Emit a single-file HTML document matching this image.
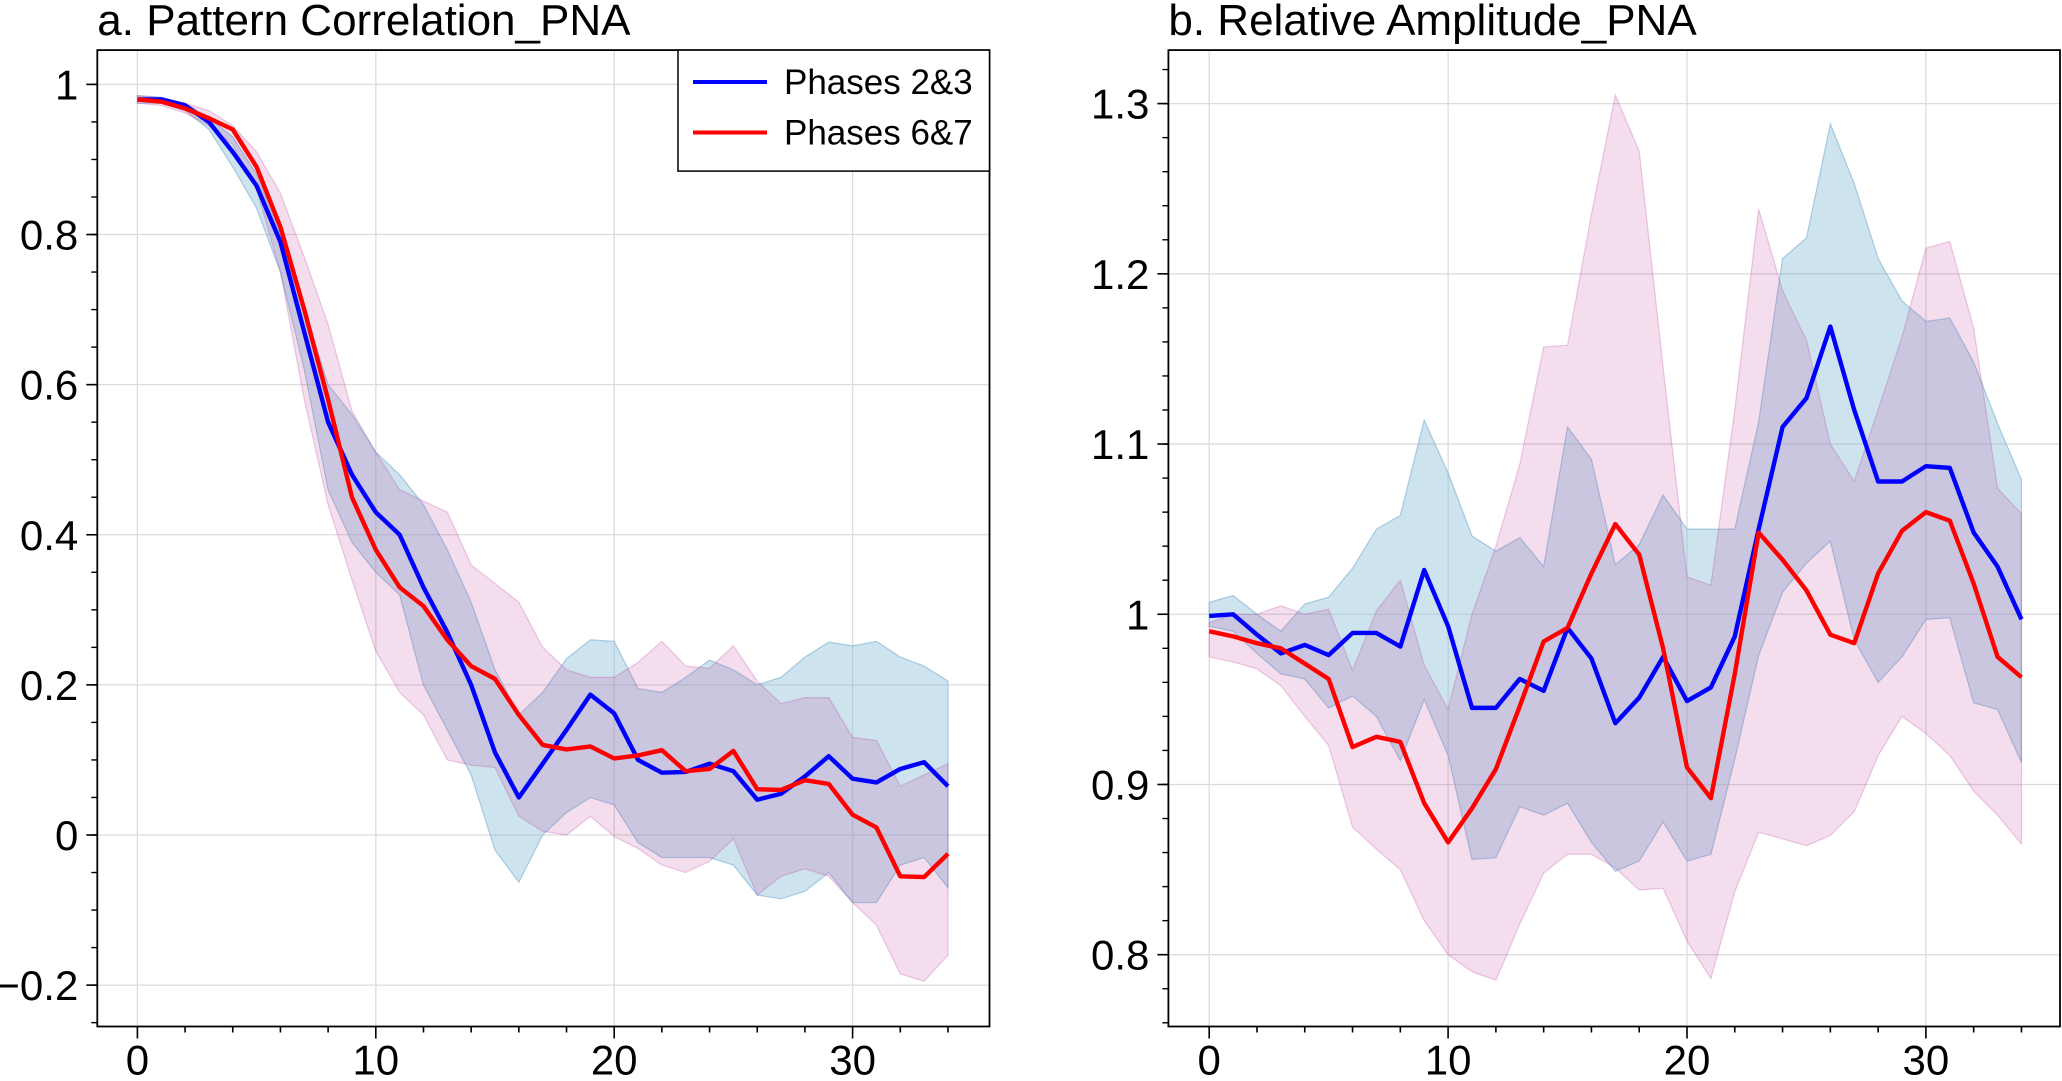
<!DOCTYPE html>
<html><head><meta charset="utf-8"><style>
html,body{margin:0;padding:0;background:#fff;}
svg text{font-family:"Liberation Sans",sans-serif;fill:#000;}
</style></head><body>
<svg id="fig" width="2062" height="1076" xmlns="http://www.w3.org/2000/svg"></svg>
<script>
const days = Array.from({length:35},(_, i)=>i);
const xTicks = [0,10,20,30];
const aTicks = [-0.2,0,0.2,0.4,0.6,0.8,1];
const aTickLabels = ["\u22120.2","0","0.2","0.4","0.6","0.8","1"];
const aBlue = [0.98,0.98,0.972,0.95,0.91,0.865,0.79,0.67,0.55,0.48,0.43,0.40,0.33,0.27,0.20,0.11,0.05,0.095,0.14,0.187,0.162,0.10,0.083,0.084,0.095,0.085,0.047,0.055,0.078,0.105,0.075,0.07,0.088,0.097,0.065];
const aRed = [0.98,0.977,0.968,0.955,0.94,0.89,0.81,0.70,0.58,0.45,0.38,0.33,0.305,0.26,0.225,0.208,0.16,0.12,0.114,0.118,0.102,0.106,0.113,0.085,0.088,0.112,0.061,0.06,0.073,0.068,0.027,0.01,-0.055,-0.056,-0.025];
const aBlueUp = [0.985,0.983,0.975,0.955,0.93,0.88,0.80,0.70,0.60,0.56,0.51,0.48,0.44,0.38,0.31,0.22,0.16,0.19,0.235,0.26,0.258,0.195,0.19,0.21,0.233,0.22,0.20,0.21,0.237,0.257,0.252,0.258,0.237,0.225,0.205];
const aBlueLo = [0.975,0.975,0.965,0.94,0.89,0.835,0.75,0.62,0.46,0.39,0.35,0.32,0.20,0.14,0.08,-0.02,-0.063,0.0,0.03,0.05,0.04,-0.01,-0.03,-0.03,-0.03,-0.04,-0.08,-0.085,-0.075,-0.05,-0.09,-0.09,-0.04,-0.03,-0.07];
const aRedUp = [0.985,0.982,0.975,0.965,0.945,0.91,0.855,0.77,0.68,0.565,0.51,0.46,0.445,0.43,0.36,0.335,0.31,0.25,0.22,0.21,0.21,0.23,0.258,0.225,0.222,0.252,0.205,0.175,0.183,0.183,0.13,0.126,0.065,0.08,0.095];
const aRedLo = [0.975,0.972,0.962,0.945,0.92,0.86,0.75,0.58,0.44,0.34,0.245,0.19,0.16,0.10,0.093,0.09,0.025,0.005,0.0,0.025,-0.002,-0.018,-0.04,-0.05,-0.035,-0.005,-0.08,-0.055,-0.045,-0.055,-0.09,-0.12,-0.185,-0.195,-0.16];
const bTicks = [0.8,0.9,1,1.1,1.2,1.3];
const bTickLabels = ["0.8","0.9","1","1.1","1.2","1.3"];
const bBlue = [0.999,1.0,0.988,0.977,0.982,0.976,0.989,0.989,0.981,1.026,0.993,0.945,0.945,0.962,0.955,0.992,0.974,0.936,0.951,0.975,0.949,0.957,0.987,1.05,1.11,1.127,1.169,1.12,1.078,1.078,1.087,1.086,1.048,1.028,0.997];
const bRed = [0.99,0.987,0.983,0.98,0.971,0.962,0.922,0.928,0.925,0.889,0.866,0.886,0.909,0.946,0.984,0.992,1.024,1.053,1.035,0.98,0.91,0.892,0.965,1.048,1.032,1.014,0.988,0.983,1.024,1.049,1.06,1.055,1.018,0.975,0.963];
const bBlueUp = [1.007,1.011,1.0,0.99,1.006,1.01,1.027,1.05,1.058,1.114,1.083,1.046,1.037,1.045,1.028,1.11,1.091,1.029,1.041,1.07,1.05,1.05,1.05,1.113,1.209,1.221,1.288,1.253,1.209,1.184,1.172,1.174,1.148,1.112,1.079];
const bBlueLo = [0.993,0.99,0.977,0.965,0.962,0.945,0.952,0.94,0.914,0.95,0.917,0.856,0.857,0.887,0.882,0.889,0.866,0.849,0.855,0.878,0.855,0.859,0.915,0.976,1.013,1.03,1.043,0.985,0.96,0.975,0.997,0.998,0.948,0.944,0.913];
const bRedUp = [0.995,1.0,1.0,1.005,1.0,1.003,0.967,1.002,1.02,0.97,0.944,1.0,1.04,1.088,1.157,1.158,1.235,1.305,1.272,1.145,1.022,1.017,1.12,1.238,1.19,1.161,1.1,1.078,1.12,1.163,1.215,1.219,1.168,1.074,1.059];
const bRedLo = [0.975,0.972,0.968,0.958,0.94,0.923,0.875,0.862,0.85,0.82,0.8,0.79,0.785,0.818,0.848,0.859,0.859,0.851,0.838,0.839,0.808,0.786,0.837,0.872,0.868,0.864,0.87,0.884,0.917,0.94,0.93,0.917,0.896,0.882,0.865];

const NS="http://www.w3.org/2000/svg";
const svg=document.getElementById('fig');
function mk(tag,attrs,parent){const e=document.createElementNS(NS,tag);for(const k in attrs)e.setAttribute(k,attrs[k]);(parent||svg).appendChild(e);return e;}

function panel(cfg){
  const g=mk('g',{});
  
  
  const L=cfg.left,R=cfg.right,T=50.1,B=1026.5;
  const sx=v=>cfg.x0+(v)*cfg.xs;
  const sy=v=>cfg.y0-(v-cfg.yref)*cfg.ys;
  xTicks.forEach(t=>{const l=mk('line',{x1:sx(t),x2:sx(t),y1:T,y2:B,stroke:'#dcdcdc','stroke-width':1.3},g);
    });
  cfg.yt.forEach(t=>{const l=mk('line',{x1:L,x2:R,y1:sy(t),y2:sy(t),stroke:'#dcdcdc','stroke-width':1.3},g);
    });
  function band(up,lo,fill,stroke,name){
    let d='M'+days.map(i=>sx(days[i])+','+sy(up[i])).join('L');
    d+='L'+days.slice().reverse().map(i=>sx(days[i])+','+sy(lo[i])).join('L')+'Z';
    const p=mk('path',{d:d,fill:fill,stroke:stroke,'stroke-width':1.2},g);
    
  }
  band(cfg.bU,cfg.bL,'rgba(130,185,212,0.4)','rgba(120,175,210,0.6)','band-phases-2-3');
  band(cfg.rU,cfg.rL,'rgba(185,50,150,0.16)','rgba(185,50,150,0.25)','band-phases-6-7');
  function line(v,c,name){
    const p=mk('polyline',{points:days.map(i=>sx(days[i])+','+sy(v[i])).join(' '),fill:'none',stroke:c,'stroke-width':4.4,'stroke-linejoin':'round'},g);
    
  }
  line(cfg.b,'#0000ff','line-phases-2-3');
  line(cfg.r,'#ff0000','line-phases-6-7');
  const fr=mk('rect',{x:L,y:T,width:R-L,height:B-T,fill:'none',stroke:'#000','stroke-width':1.8},g);
  
  for(let t=-2;t<=36;t+=2){const x=sx(t);if(x<L-0.5||x>R+0.5)continue;const maj=t%10===0;
    mk('line',{x1:x,x2:x,y1:B,y2:B+(maj?12:6),stroke:'#000','stroke-width':1.6},g);}
  xTicks.forEach(t=>{const tx=mk('text',{x:sx(t),y:B+48,'font-size':42,'text-anchor':'middle'},g);tx.textContent=t;
    });
  for(let v=cfg.minStart;v<=cfg.minEnd+1e-9;v+=cfg.minStep){const y=sy(v);if(y<T-0.5||y>B+0.5)continue;
    mk('line',{x1:L,x2:L-6,y1:y,y2:y,stroke:'#000','stroke-width':1.4},g);}
  cfg.yt.forEach((t,i)=>{mk('line',{x1:L,x2:L-11,y1:sy(t),y2:sy(t),stroke:'#000','stroke-width':1.6},g);
    const tx=mk('text',{x:L-19,y:sy(t)+15,'font-size':42,'text-anchor':'end'},g);tx.textContent=cfg.ytl[i];
    });
  const ti=mk('text',{x:L,y:35,'font-size':44},g);ti.textContent=cfg.title;
  
}
panel({name:'panel-a-pattern-correlation',left:97.3,right:989.5,x0:137.4,xs:23.84,y0:835,yref:0,ys:750.6,
  yt:aTicks,ytl:aTickLabels,minStart:-0.25,minEnd:1.05,minStep:0.05,title:'a. Pattern Correlation_PNA',
  b:aBlue,r:aRed,bU:aBlueUp,bL:aBlueLo,rU:aRedUp,rL:aRedLo});
panel({name:'panel-b-relative-amplitude',left:1168.4,right:2060,x0:1209.2,xs:23.89,y0:954.7,yref:0.8,ys:1702.2,
  yt:bTicks,ytl:bTickLabels,minStart:0.76,minEnd:1.34,minStep:0.02,title:'b. Relative Amplitude_PNA',
  b:bBlue,r:bRed,bU:bBlueUp,bL:bBlueLo,rU:bRedUp,rL:bRedLo});
const lg=mk('g',{});


mk('rect',{x:678,y:50.1,width:311.5,height:121,fill:'#fff',stroke:'#000','stroke-width':1.5},lg);
[['#0000ff','Phases 2&3',82],['#ff0000','Phases 6&7',132.5]].forEach(e=>{
  const en=mk('g',{},lg);
  
  
  mk('line',{x1:693,x2:767,y1:e[2],y2:e[2],stroke:e[0],'stroke-width':4},en);
  const t=mk('text',{x:784,y:e[2]+12,'font-size':35},en);t.textContent=e[1];
});
</script>
</body></html>
